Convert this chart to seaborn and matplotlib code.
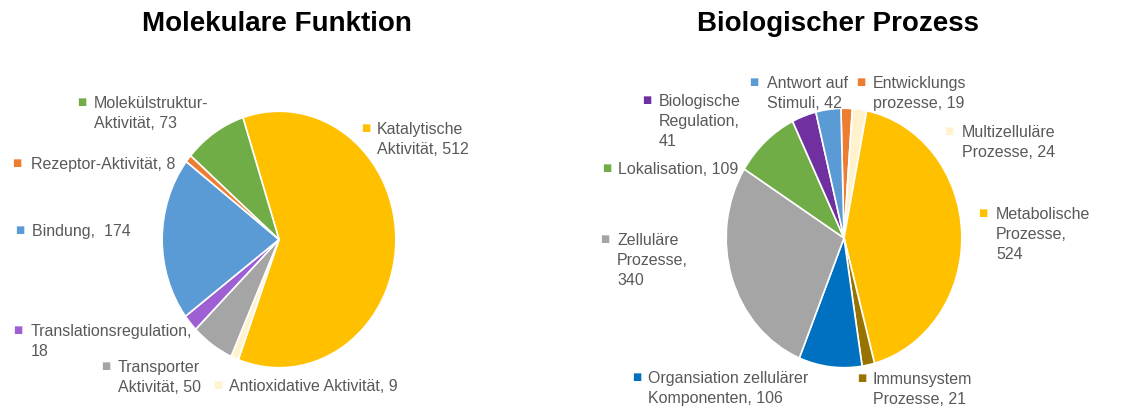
import matplotlib
matplotlib.use("Agg")
import matplotlib.pyplot as plt
import seaborn as sns

sns.set_theme(style="white")
plt.rcParams['font.family'] = ['Liberation Sans', 'DejaVu Sans']

W, H = 1143, 410

# Molekulare Funktion
mf_labels = ['Katalytische\nAktivität, 512', 'Antioxidative Aktivität, 9',
             'Transporter\nAktivität, 50', 'Translationsregulation,\n18',
             'Bindung,  174', 'Rezeptor-Aktivität, 8',
             'Molekülstruktur-\nAktivität, 73']
mf_values = [512, 9, 50, 18, 174, 8, 73]
mf_colors = ['#FFC000', '#FFF2CC', '#A5A5A5', '#9E5FD5', '#5B9BD5', '#ED7D31', '#70AD47']

# Biologischer Prozess
bp_labels = ['Entwicklungs\nprozesse, 19', 'Multizelluläre\nProzesse, 24',
             'Metabolische\nProzesse,\n524', 'Immunsystem\nProzesse, 21',
             'Organsiation zellulärer\nKomponenten, 106', 'Zelluläre\nProzesse,\n340',
             'Lokalisation, 109', 'Biologische\nRegulation,\n41', 'Antwort auf\nStimuli, 42']
bp_values = [19, 24, 524, 21, 106, 340, 109, 41, 42]
bp_colors = ['#ED7D31', '#FFF2CC', '#FFC000', '#997300', '#0070C0', '#A5A5A5',
             '#70AD47', '#7030A0', '#5B9BD5']

# label anchor points in pixels (marker x, first line center y, text x)
mf_pos = [(366, 128, 377), (218, 385, 229), (106, 366, 118), (18, 330, 31),
          (20, 230, 32), (17, 163, 31), (82, 102, 94)]
bp_pos = [(861, 82, 873), (949, 131, 962), (983, 213, 996), (862, 378, 873),
          (637, 377, 648), (605, 239, 617), (607, 168, 618), (647, 100, 659),
          (754, 82, 767)]

fig = plt.figure(figsize=(W / 100, H / 100), dpi=100)


def draw_pie(box, values, colors, start, labels, pos, title, title_x):
    ax = fig.add_axes([box[0] / W, 1 - box[3] / H, (box[2] - box[0]) / W, (box[3] - box[1]) / H])
    ax.pie(values, colors=colors, startangle=start, counterclock=False,
           wedgeprops=dict(edgecolor='white', linewidth=1.2))
    ax.set_aspect('auto')
    ax.set_xlim(-1.01, 1.01)
    ax.set_ylim(-1.01, 1.01)
    ax.axis('off')
    for lab, col, (mx, ly, tx) in zip(labels, colors, pos):
        fig.text(mx / W, 1 - ly / H, '\u25A0', color=col, fontsize=7,
                 ha='center', va='center', family=['DejaVu Sans'])
        fig.text(tx / W, 1 - (ly - 6) / H, lab, color='#595959', fontsize=11.5,
                 ha='left', va='top', multialignment='left', linespacing=1.42)
    fig.text(title_x / W, 1 - 24 / H, title, fontsize=20, fontweight='bold',
             ha='center', va='center', color='black')


draw_pie((161, 111, 397, 370), mf_values, mf_colors, 108, mf_labels, mf_pos,
         'Molekulare Funktion', 277)
draw_pie((725, 108, 963, 370), bp_values, bp_colors, 91.5, bp_labels, bp_pos,
         'Biologischer Prozess', 838)

fig.savefig('out.png', dpi=100)
